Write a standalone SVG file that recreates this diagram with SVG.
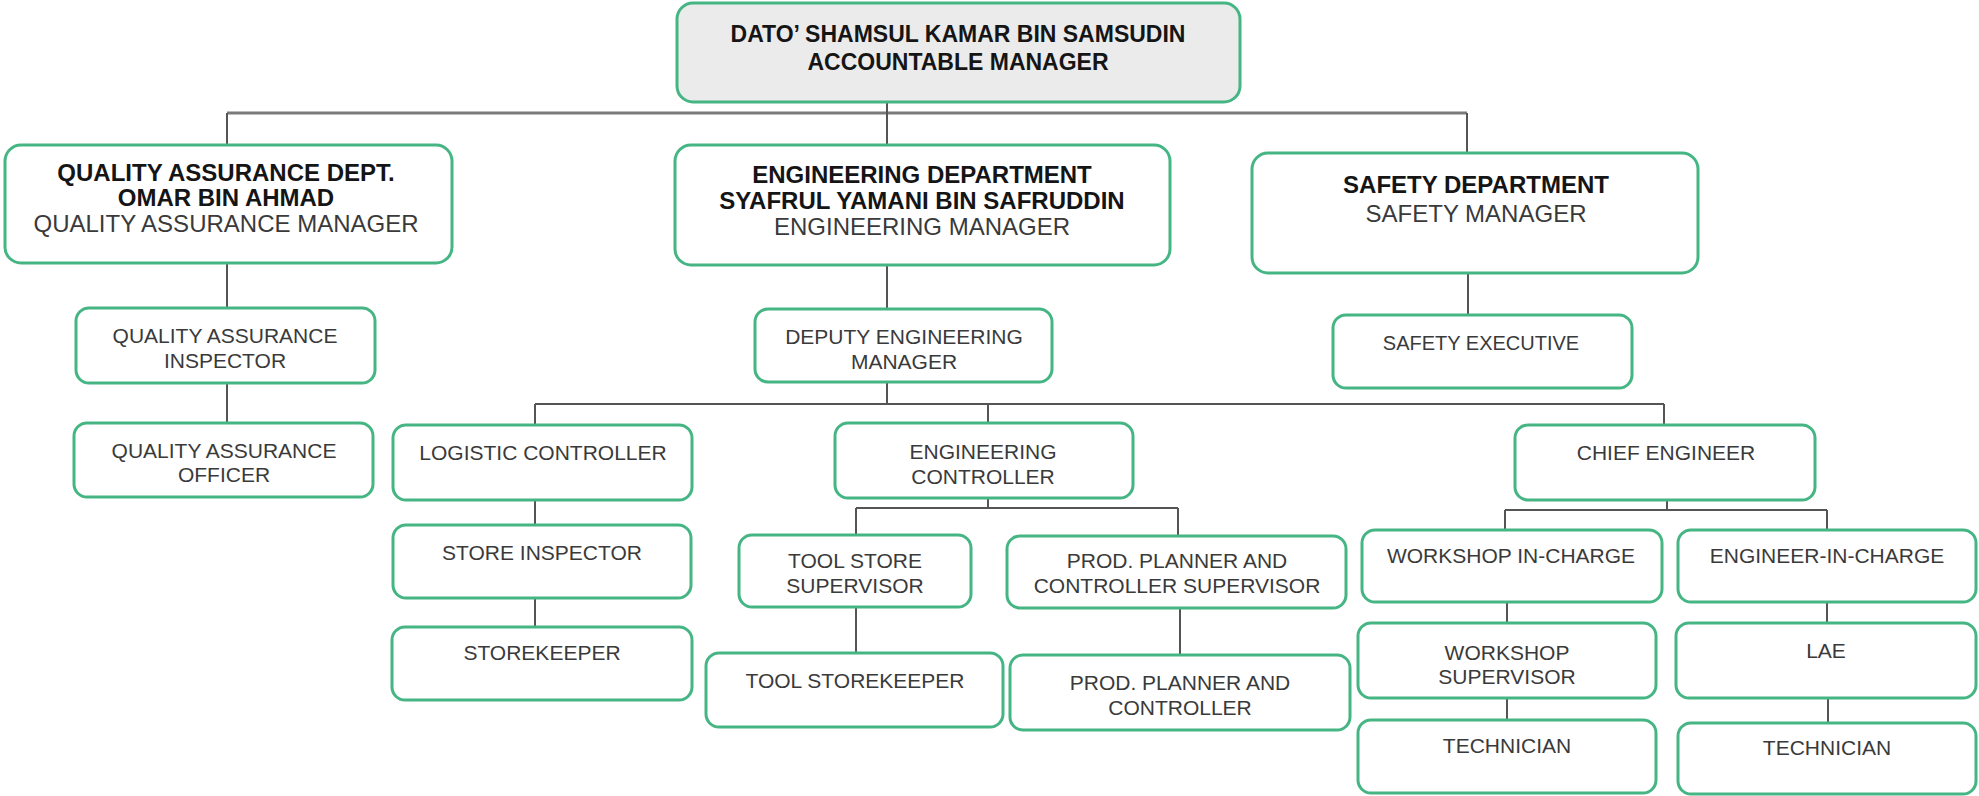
<svg xmlns="http://www.w3.org/2000/svg" width="1979" height="796" viewBox="0 0 1979 796">
<style>
.bx{fill:#fff;stroke:#46b584;stroke-width:3}
.top{fill:#ebebeb}
.b{font-family:"Liberation Sans",Arial,sans-serif;font-weight:bold;fill:#151515;text-anchor:middle}
.r{font-family:"Liberation Sans",Arial,sans-serif;fill:#3a3a3a;text-anchor:middle}
.L{font-size:24px}
.S{font-size:21px}
.c{fill:none;stroke:#555;stroke-width:2}
.cb{fill:none;stroke:#7a7a7a;stroke-width:3}
</style>
<rect width="1979" height="796" fill="#fff"/>
<g id="connectors">
<path class="cb" d="M227 113H1467"/>
<path class="c" d="M887 102V113M227 113V145M887 113V145M1467 113V153"/>
<path class="c" d="M227 263V308M227 383V423"/>
<path class="c" d="M887 265V309M1468 273V315"/>
<path class="c" d="M887 382V404M535 404H1664M535 404V425M988 404V423M1664 404V425"/>
<path class="c" d="M535 500V525M535 598V627"/>
<path class="c" d="M988 498V508M856 508H1178M856 508V535M1178 508V536"/>
<path class="c" d="M856 607V653M1180 608V655"/>
<path class="c" d="M1667 500V510M1505 510H1827M1505 510V530M1827 510V530"/>
<path class="c" d="M1507 602V623M1507 698V720M1827 602V623M1828 698V723"/>
</g>
<g id="n-accountable">
<rect class="bx top" x="677" y="3" width="563" height="99" rx="16"/>
<text class="b" x="958" y="42" font-size="23">DATO’ SHAMSUL KAMAR BIN SAMSUDIN</text>
<text class="b" x="958" y="70" font-size="23">ACCOUNTABLE MANAGER</text>
</g>
<g id="n-qa-dept">
<rect class="bx" x="5" y="145" width="447" height="118" rx="16"/>
<text class="b L" x="226" y="181">QUALITY ASSURANCE DEPT.</text>
<text class="b L" x="226" y="206">OMAR BIN AHMAD</text>
<text class="r L" x="226" y="232">QUALITY ASSURANCE MANAGER</text>
</g>
<g id="n-eng-dept">
<rect class="bx" x="675" y="145" width="495" height="120" rx="16"/>
<text class="b L" x="922" y="183">ENGINEERING DEPARTMENT</text>
<text class="b L" x="922" y="209">SYAFRUL YAMANI BIN SAFRUDDIN</text>
<text class="r L" x="922" y="235">ENGINEERING MANAGER</text>
</g>
<g id="n-safety-dept">
<rect class="bx" x="1252" y="153" width="446" height="120" rx="16"/>
<text class="b L" x="1476" y="193">SAFETY DEPARTMENT</text>
<text class="r L" x="1476" y="222">SAFETY MANAGER</text>
</g>
<g id="n-qa-inspector">
<rect class="bx" x="76" y="308" width="299" height="75" rx="13"/>
<text class="r S" x="225" y="343">QUALITY ASSURANCE</text>
<text class="r S" x="225" y="368">INSPECTOR</text>
</g>
<g id="n-qa-officer">
<rect class="bx" x="74" y="423" width="299" height="74" rx="13"/>
<text class="r S" x="224" y="458">QUALITY ASSURANCE</text>
<text class="r S" x="224" y="482">OFFICER</text>
</g>
<g id="n-deputy">
<rect class="bx" x="755" y="309" width="297" height="73" rx="13"/>
<text class="r S" x="904" y="344">DEPUTY ENGINEERING</text>
<text class="r S" x="904" y="369">MANAGER</text>
</g>
<g id="n-safety-exec">
<rect class="bx" x="1333" y="315" width="299" height="73" rx="13"/>
<text class="r" x="1481" y="350" font-size="20">SAFETY EXECUTIVE</text>
</g>
<g id="n-logistic">
<rect class="bx" x="393" y="425" width="299" height="75" rx="13"/>
<text class="r S" x="543" y="460">LOGISTIC CONTROLLER</text>
</g>
<g id="n-store-inspector">
<rect class="bx" x="393" y="525" width="298" height="73" rx="13"/>
<text class="r S" x="542" y="560">STORE INSPECTOR</text>
</g>
<g id="n-storekeeper">
<rect class="bx" x="392" y="627" width="300" height="73" rx="13"/>
<text class="r S" x="542" y="660">STOREKEEPER</text>
</g>
<g id="n-eng-controller">
<rect class="bx" x="835" y="423" width="298" height="75" rx="13"/>
<text class="r S" x="983" y="459">ENGINEERING</text>
<text class="r S" x="983" y="484">CONTROLLER</text>
</g>
<g id="n-chief-engineer">
<rect class="bx" x="1515" y="425" width="300" height="75" rx="13"/>
<text class="r S" x="1666" y="460">CHIEF ENGINEER</text>
</g>
<g id="n-tool-store-sup">
<rect class="bx" x="739" y="535" width="232" height="72" rx="13"/>
<text class="r S" x="855" y="568">TOOL STORE</text>
<text class="r S" x="855" y="593">SUPERVISOR</text>
</g>
<g id="n-prod-sup">
<rect class="bx" x="1007" y="536" width="339" height="72" rx="13"/>
<text class="r S" x="1177" y="568">PROD. PLANNER AND</text>
<text class="r S" x="1177" y="593">CONTROLLER SUPERVISOR</text>
</g>
<g id="n-tool-storekeeper">
<rect class="bx" x="706" y="653" width="297" height="74" rx="13"/>
<text class="r S" x="855" y="688">TOOL STOREKEEPER</text>
</g>
<g id="n-prod-planner">
<rect class="bx" x="1010" y="655" width="340" height="75" rx="13"/>
<text class="r S" x="1180" y="690">PROD. PLANNER AND</text>
<text class="r S" x="1180" y="715">CONTROLLER</text>
</g>
<g id="n-workshop-ic">
<rect class="bx" x="1362" y="530" width="300" height="72" rx="13"/>
<text class="r S" x="1511" y="563">WORKSHOP IN-CHARGE</text>
</g>
<g id="n-engineer-ic">
<rect class="bx" x="1678" y="530" width="298" height="72" rx="13"/>
<text class="r S" x="1827" y="563">ENGINEER-IN-CHARGE</text>
</g>
<g id="n-workshop-sup">
<rect class="bx" x="1358" y="623" width="298" height="75" rx="13"/>
<text class="r S" x="1507" y="660">WORKSHOP</text>
<text class="r S" x="1507" y="684">SUPERVISOR</text>
</g>
<g id="n-lae">
<rect class="bx" x="1676" y="623" width="300" height="75" rx="13"/>
<text class="r S" x="1826" y="658">LAE</text>
</g>
<g id="n-technician-1">
<rect class="bx" x="1358" y="720" width="298" height="73" rx="13"/>
<text class="r S" x="1507" y="753">TECHNICIAN</text>
</g>
<g id="n-technician-2">
<rect class="bx" x="1678" y="723" width="298" height="71" rx="13"/>
<text class="r S" x="1827" y="755">TECHNICIAN</text>
</g>
</svg>
